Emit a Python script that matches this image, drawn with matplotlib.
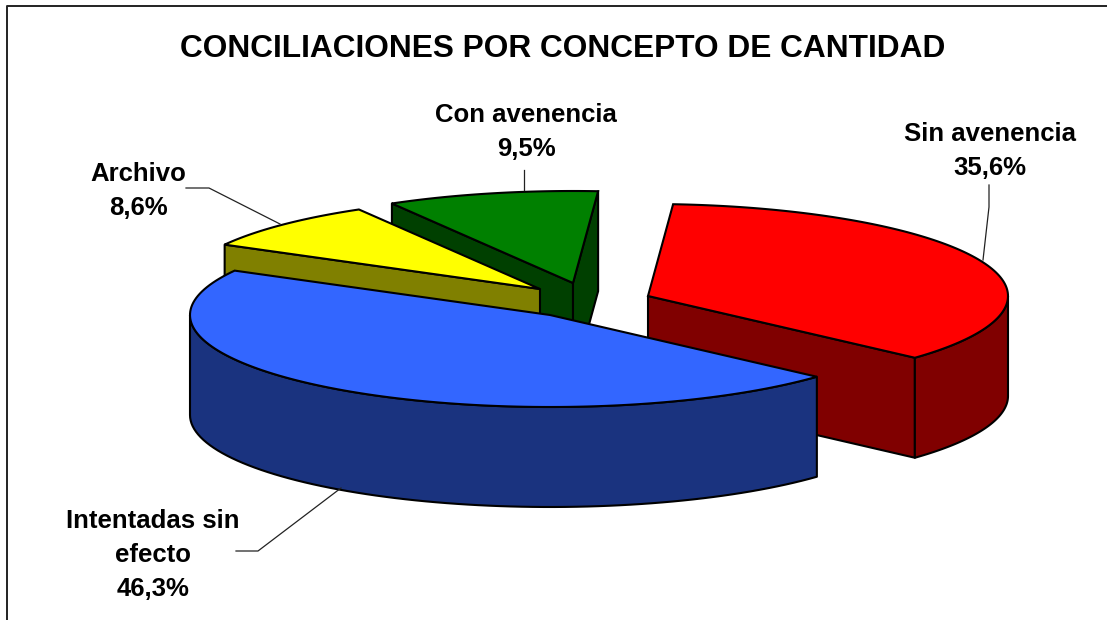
import numpy as np
import matplotlib
matplotlib.use('Agg')
import matplotlib.pyplot as plt
from matplotlib.patches import Polygon

plt.rcParams['font.family'] = ['Liberation Sans', 'DejaVu Sans']

labels = ['Sin avenencia', 'Intentadas sin\nefecto', 'Archivo', 'Con avenencia']
values = [35.6, 46.3, 8.6, 9.5]
top_colors = ['#ff0000', '#3366ff', '#ffff00', '#008000']
side_colors = ['#800000', '#1a337f', '#808000', '#004000']

# apex of each exploded slice, in pixels
apex = [(648, 296), (550, 315), (540, 289), (573, 283)]
label_pos = [(990, 151), (153, 555), (138, 191), (526, 132)]
leaders = [
    ([989, 989, 983], [185, 207, 260]),
    ([236, 258, 341], [551, 551, 488]),
    ([186, 209, 280], [188, 188, 224]),
    ([524, 524], [170, 190]),
]

rx, ry = 360, 92
depth = 100
start_angle = 4

fig = plt.figure(figsize=(11.07, 6.2), dpi=100)
ax = fig.add_axes([0, 0, 1, 1])
ax.set_xlim(0, 1107)
ax.set_ylim(620, 0)
ax.axis('off')

# chart frame, only left and top show in the crop
ax.plot([7, 7, 1107], [620, 6, 6], color='#222222', lw=1.4)


def rim(cx, cy, t):
    t = np.radians(t)
    return cx + rx * np.sin(t), cy - ry * np.cos(t)


def draw_slice(i, t1, t2):
    cx, cy = apex[i]
    style = dict(fc=side_colors[i], ec='black', lw=1.5, joinstyle='round')

    # flat walls, only the ones facing the viewer
    for t, visible in ((t1, np.sin(np.radians(t1)) < 0), (t2, np.sin(np.radians(t2)) > 0)):
        if visible:
            x, y = rim(cx, cy, t)
            ax.add_patch(Polygon([(cx, cy), (x, y), (x, y + depth), (cx, cy + depth)], **style))

    # outer wall, front half of the ellipse
    a = max(t1, 90)
    b = min(t2, 270)
    if a < b:
        x, y = rim(cx, cy, np.linspace(a, b, 80))
        pts = list(zip(x, y)) + list(zip(x[::-1], y[::-1] + depth))
        ax.add_patch(Polygon(pts, **style))

    # top face
    x, y = rim(cx, cy, np.linspace(t1, t2, 120))
    ax.add_patch(Polygon([(cx, cy)] + list(zip(x, y)), fc=top_colors[i], ec='black', lw=1.5))


edges = start_angle + np.concatenate([[0], np.cumsum(values)]) / sum(values) * 360
for i in [3, 2, 0, 1]:
    draw_slice(i, edges[i], edges[i + 1])

for xs, ys in leaders:
    ax.plot(xs, ys, color='#222222', lw=0.9)

for lab, val, pos in zip(labels, values, label_pos):
    txt = lab + '\n' + f'{val:.1f}%'.replace('.', ',')
    ax.text(pos[0], pos[1], txt, ha='center', va='center', fontsize=18.5,
            fontweight='bold', linespacing=1.5, color='black')

ax.text(563, 49, 'CONCILIACIONES POR CONCEPTO DE CANTIDAD', ha='center', va='center',
        fontsize=22.8, fontweight='bold', color='black')

fig.savefig('out.png', dpi=100, facecolor='white')
